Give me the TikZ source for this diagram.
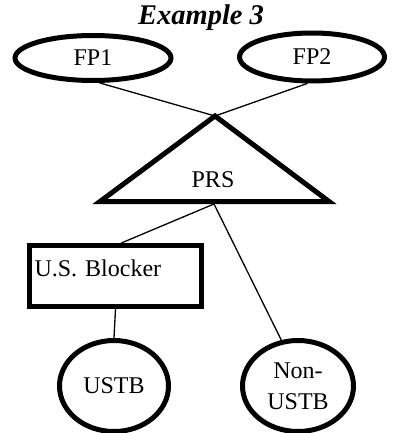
\documentclass[tikz,border=0pt]{standalone}
\usepackage{fontspec}
\setmainfont{Liberation Serif}
\usepackage{tikz}
\usetikzlibrary{shapes,calc}

\begin{document}
\begin{tikzpicture}[x=1pt, y=-1pt,
        oval/.style={ellipse, draw, line width=5pt, inner sep=0pt, font=\fontsize{24}{31}\selectfont, align=center},
        blocker/.style={rectangle, draw, line width=5pt, minimum width=172pt, minimum height=61pt, inner xsep=5pt, text width=162pt, align=left, text depth=16pt, font=\fontsize{24}{28}\selectfont},
        link/.style={draw, line width=1.3pt},
        heavy/.style={line width=5pt, line join=miter}]
        \useasboundingbox (0,0) rectangle (399,433);

        \node[font=\fontsize{28.5}{30}\selectfont\bfseries\itshape] (title) at (201,18) {Example 3};

        \node[oval, minimum width=156pt, minimum height=45pt] (fp1) at (93,58) {FP1};
        \node[oval, minimum width=145pt, minimum height=48pt] (fp2) at (312,57) {FP2};

        % PRS triangle
        \coordinate (top) at (215,116);
        \coordinate (left) at (100,201.5);
        \coordinate (right) at (329,201.5);
        \coordinate (base) at (214,204);
        \draw[heavy] (top) -- (left) -- (right) -- cycle;
        \node[font=\fontsize{24}{28}\selectfont] (prs) at (213,180) {PRS};

        \node[blocker] (box) at (115.5,276) {U.S. Blocker};

        \node[oval, minimum width=109pt, minimum height=91pt] (ustb) at (114,386) {USTB};
        \node[oval, minimum width=111pt, minimum height=91pt] (nonustb) at (298,386) {Non-\\USTB};

        \draw[link] (fp1.-75) -- (top);
        \draw[link] (fp2.-100) -- (top);
        \draw[link] (base) -- (box.80);
        \draw[link] (base) -- (nonustb.110);
        \draw[link] (box.south) -- (ustb.north);
    \end{tikzpicture}
\end{document}
